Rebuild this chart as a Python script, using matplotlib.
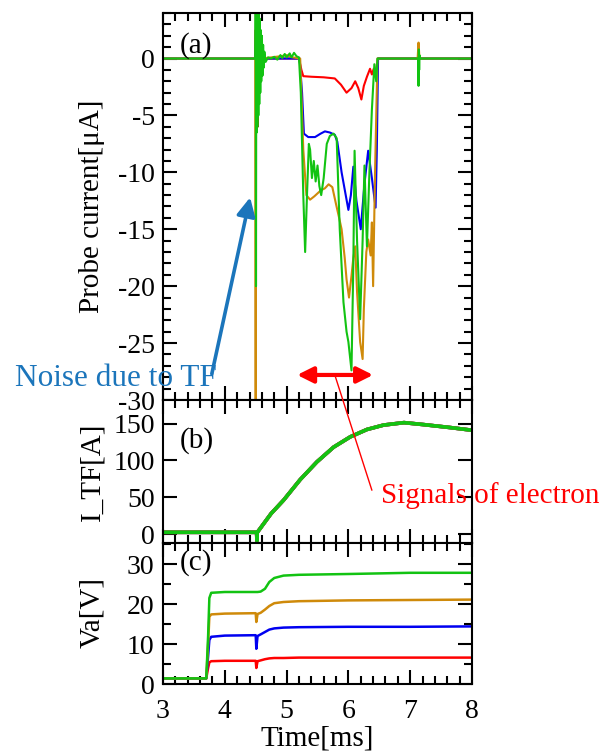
import matplotlib
matplotlib.use('Agg')
import matplotlib.pyplot as plt
from matplotlib.ticker import MultipleLocator
from matplotlib.patches import ConnectionPatch

plt.rcParams['font.family'] = ['Liberation Serif', 'DejaVu Serif']
plt.rcParams['axes.unicode_minus'] = False

RED = '#ff0000'
BLUE = '#0000f0'
ORANGE = '#cf8a0a'
GREEN = '#12c312'
NOTE_BLUE = '#1b75bb'

# ── (a) probe current [uA] ────────────────────────────────────────────
red_t = [3.0, 4.49, 4.50, 4.515, 4.53, 4.545, 4.56, 4.6, 5.20, 5.24, 5.27, 5.4,
         5.6, 5.78, 5.88, 5.97, 6.05, 6.11, 6.16, 6.21, 6.25, 6.30, 6.35, 6.38,
         6.41, 6.44, 6.46, 6.48, 8.0]
red_v = [0, 0, 2.5, -3.0, -6.0, 1.0, -0.5, 0, 0, -1.0, -1.55, -1.6,
         -1.65, -1.75, -2.3, -3.0, -2.6, -2.0, -2.6, -3.6, -2.4, -1.6, -0.9, -1.4,
         -0.9, -1.5, -0.5, 0, 0]

blue_t = [3.0, 4.50, 4.52, 4.53, 4.54, 4.56, 4.6, 5.21, 5.25, 5.28, 5.35, 5.46,
          5.55, 5.62, 5.70, 5.78, 5.82, 5.89, 5.97, 6.00, 6.04, 6.08, 6.13, 6.20,
          6.26, 6.32, 6.38, 6.44, 6.46, 6.48, 8.0]
blue_v = [0, 0, 4.5, -3.0, 2.0, -1.0, 0, 0, -3.0, -6.6, -6.9, -6.9,
          -6.6, -6.4, -6.5, -6.7, -7.3, -10.0, -12.4, -13.3, -12.0, -9.5, -12.5, -15.0,
          -11.0, -8.1, -10.5, -13.1, -8.0, 0, 0]

orange_t = [3.0, 4.495, 4.50, 4.503, 4.51, 4.52, 4.53, 4.55, 4.6, 4.9, 5.0, 5.1,
            5.22, 5.27, 5.32, 5.38, 5.45, 5.49, 5.55, 5.62, 5.68, 5.74, 5.80, 5.85,
            5.89, 5.94, 5.97, 6.01, 6.05, 6.08, 6.11, 6.14, 6.19, 6.23, 6.25, 6.29,
            6.32, 6.36, 6.38, 6.40, 6.43, 6.47, 7.12, 7.135, 7.15, 8.0]
orange_v = [0, 0, -32, 5, -3, 1, -1, 0.3, 0, 0.2, 0.3, 0.1,
            0, -8, -12.0, -12.4, -12.1, -11.9, -11.6, -11.4, -11.05, -11.3, -12.8, -14.0,
            -15.0, -17.5, -19.4, -21.0, -19.1, -17.5, -16.5, -20.5, -24.9, -26.4, -22.0, -17.0,
            -15.9, -17.3, -14.4, -20.0, -10.3, 0, 0, 1.4, 0, 0]

green_t = [3.0, 4.495, 4.50, 4.505, 4.51, 4.515, 4.52, 4.527, 4.535, 4.543, 4.55,
           4.558, 4.566, 4.574, 4.582, 4.59, 4.60, 4.61, 4.62, 4.63, 4.64, 4.66,
           4.7, 4.75, 4.8, 4.85, 4.9, 4.93, 4.97, 5.0, 5.05, 5.08, 5.12, 5.16, 5.2,
           5.23, 5.27, 5.30, 5.33, 5.36, 5.38, 5.41, 5.44, 5.47, 5.50, 5.53, 5.56,
           5.60, 5.65, 5.70, 5.76, 5.81, 5.86, 5.92, 5.97, 6.00, 6.05, 6.08, 6.10,
           6.14, 6.19, 6.23, 6.26, 6.30, 6.34, 6.38, 6.42, 6.45, 6.47, 7.13, 7.135,
           7.14, 7.145, 7.15, 7.16, 8.0]
green_v = [0, 0, 5, -20, 5, -6.5, 5, -6, 5, -5, 4.5,
           -4, 3.5, -3, 2.5, -2, 2, -1.5, 1.2, -0.8, 0.6, -0.3,
           0.1, 0, 0.15, -0.1, 0.3, 0.05, 0.4, 0.1, 0.45, 0.1, 0.5, 0.2, 0.1,
           -3, -12, -17.0, -12, -7.5, -8.0, -10.5, -9.0, -10.8, -9.4, -11.2, -12.0,
           -10.5, -7.5, -6.8, -6.6, -7.0, -15, -21.4, -24.0, -24.9, -27.4, -18, -8.1,
           -16, -22.9, -16, -9.4, -16.5, -10, -4.5, -0.5, -2, 0, 0, -2.4,
           0.8, -1, 0.3, 0, 0]

# ── (b) TF coil current [A] ───────────────────────────────────────────
tf_t = [3.0, 4.50, 4.515, 4.52, 4.525, 4.54, 4.75, 4.95, 5.22, 5.49, 5.76, 6.03,
        6.30, 6.57, 6.90, 7.22, 7.65, 8.0]
tf_v = [2.5, 2.5, 2.5, -9, 2.5, 4, 28, 46, 74, 98, 118, 132,
        142, 148, 151.3, 148.6, 144.6, 141]

# ── (c) probe bias [V] ────────────────────────────────────────────────
va_t = [3.0, 3.70, 3.73, 3.75, 3.78, 4.0, 4.50, 4.51, 4.53, 4.58, 4.65, 4.72,
        4.80, 4.95, 5.2, 6.0, 7.0, 8.0]
va_green = [1.4, 1.4, 12.0, 21.5, 22.8, 23.0, 23.0, 23.0, 23.0, 23.1, 23.8, 25.5,
            26.5, 27.1, 27.3, 27.5, 27.8, 27.8]
va_orange = [1.4, 1.4, 10.0, 16.8, 17.4, 17.6, 17.7, 15.5, 17.5, 17.8, 18.6, 19.5,
             20.2, 20.5, 20.7, 20.9, 21.0, 21.1]
va_blue = [1.4, 1.4, 7.0, 11.0, 11.8, 12.1, 12.2, 8.8, 12.0, 12.4, 13.0, 13.6,
           13.9, 14.1, 14.2, 14.3, 14.3, 14.4]
va_red = [1.4, 1.4, 4.0, 5.4, 5.7, 5.8, 5.8, 4.0, 5.7, 5.9, 6.2, 6.4,
          6.5, 6.5, 6.6, 6.6, 6.6, 6.6]

fig = plt.figure(figsize=(6.12, 7.52), dpi=100)
L, W = 163 / 612, 309 / 612
ax_a = fig.add_axes([L, 1 - 400 / 752, W, 387 / 752])
ax_b = fig.add_axes([L, 1 - 543 / 752, W, 143 / 752])
ax_c = fig.add_axes([L, 1 - 684 / 752, W, 141 / 752])

ax_a.plot(red_t, red_v, color=RED, lw=1.5)
ax_a.plot(blue_t, blue_v, color=BLUE, lw=1.5)
ax_a.plot(orange_t, orange_v, color=ORANGE, lw=1.5)
ax_a.plot(green_t, green_v, color=GREEN, lw=1.5)

for c in [RED, BLUE, ORANGE, GREEN]:
    ax_b.plot(tf_t, tf_v, color=c, lw=2.6)

ax_c.plot(va_t, va_red, color=RED, lw=1.8)
ax_c.plot(va_t, va_blue, color=BLUE, lw=1.8)
ax_c.plot(va_t, va_orange, color=ORANGE, lw=1.8)
ax_c.plot(va_t, va_green, color=GREEN, lw=1.8)

ax_a.set_ylim(-30, 4.0)
ax_b.set_ylim(-12, 182)
ax_c.set_ylim(0, 35.25)
ax_a.yaxis.set_major_locator(MultipleLocator(5))
ax_a.yaxis.set_minor_locator(MultipleLocator(1))
ax_b.yaxis.set_major_locator(MultipleLocator(50))
ax_c.yaxis.set_major_locator(MultipleLocator(10))
ax_c.yaxis.set_minor_locator(MultipleLocator(5))

for ax in (ax_a, ax_b, ax_c):
    ax.set_xlim(3, 8)
    ax.xaxis.set_major_locator(MultipleLocator(1))
    ax.xaxis.set_minor_locator(MultipleLocator(0.2))
    ax.tick_params(which='both', direction='in', top=True, right=True,
                   width=1.5, labelsize=20)
    ax.tick_params(which='major', length=10)
    ax.tick_params(which='minor', length=5.5)
    ax.tick_params(axis='y', pad=6)
    ax.tick_params(axis='x', pad=11)
    for s in ax.spines.values():
        s.set_linewidth(1.5)
ax_a.tick_params(labelbottom=False)
ax_b.tick_params(labelbottom=False)
ax_b.set_yticks([0, 50, 100, 150])

# panel tags
ax_a.text(0.055, 0.915, '(a)', transform=ax_a.transAxes, fontsize=21, ha='left', va='center')
ax_b.text(0.055, 0.72, '(b)', transform=ax_b.transAxes, fontsize=21, ha='left', va='center')
ax_c.text(0.055, 0.86, '(c)', transform=ax_c.transAxes, fontsize=21, ha='left', va='center')

# axis labels
fig.text(92 / 612, 1 - 206 / 752, 'Probe current[μA]', rotation=90, fontsize=21,
         ha='center', va='center')
fig.text(92 / 612, 1 - 472 / 752, 'I_TF[A]', rotation=90, fontsize=21,
         ha='center', va='center')
fig.text(92 / 612, 1 - 613 / 752, 'Va[V]', rotation=90, fontsize=21,
         ha='center', va='center')
fig.text(317 / 612, 1 - 738 / 752, 'Time[ms]', fontsize=21, ha='center', va='center')

# noise annotation
fig.text(15 / 612, 1 - 386 / 752, 'Noise due to TF', fontsize=22.5, color=NOTE_BLUE,
         ha='left', va='baseline')
ax_a.annotate('', xy=(4.41, -12.2), xytext=(3.79, -27.7),
              arrowprops=dict(arrowstyle='-|>', color=NOTE_BLUE, lw=2.6,
                              mutation_scale=28, shrinkA=0, shrinkB=0),
              annotation_clip=False)

# electron signal annotation
ax_a.annotate('', xy=(5.17, -27.8), xytext=(6.40, -27.8),
              arrowprops=dict(arrowstyle='<|-|>', color=RED, lw=3,
                              mutation_scale=24, shrinkA=0, shrinkB=0))
con = ConnectionPatch(xyA=(5.78, -27.8), coordsA=ax_a.transData,
                      xyB=(6.38, 59.6), coordsB=ax_b.transData,
                      color=RED, lw=1.0)
fig.add_artist(con)
fig.text(381 / 612, 1 - 503 / 752, 'Signals of electron', fontsize=21, color=RED,
         ha='left', va='baseline')

fig.savefig('out.png', dpi=100, facecolor='white')
